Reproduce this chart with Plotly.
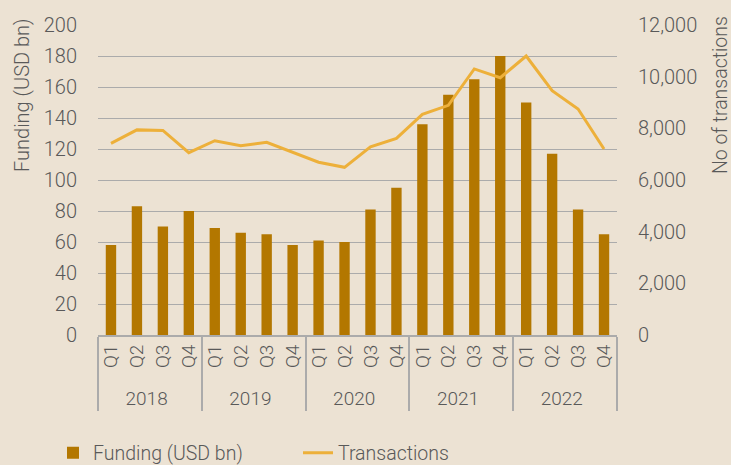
import plotly.graph_objects as go

years = ["2018"] * 4 + ["2019"] * 4 + ["2020"] * 4 + ["2021"] * 4 + ["2022"] * 4
quarters = ["Q1", "Q2", "Q3", "Q4"] * 5
funding = [58, 83, 70, 80, 69, 66, 65, 58, 61, 60, 81, 95, 136, 155, 165, 180, 150, 117, 81, 65]
transactions = [7420, 7940, 7920, 7060, 7520, 7330, 7460, 7060, 6690, 6490, 7280, 7610,
                8540, 8890, 10300, 9960, 10800, 9460, 8750, 7200]

BG = "#ECE2D3"
TXT = "#595959"
GRID = "#ABABAB"
FONT = "Roboto"

L, R, T, B = 98, 114, 25, 130
W, H = 731, 465
PW, PH = W - L - R, H - T - B

fig = go.Figure()
fig.add_trace(go.Bar(x=[years, quarters], y=funding, name="Funding (USD bn)",
                     marker=dict(color="#B37700", line=dict(width=0)), yaxis="y"))
fig.add_trace(go.Scatter(x=[years, quarters], y=transactions, name="Transactions",
                         mode="lines", line=dict(color="#EDB03A", width=3), yaxis="y2"))

fig.update_layout(
    width=W, height=H,
    margin=dict(l=L, r=R, t=T, b=B, autoexpand=False),
    paper_bgcolor=BG, plot_bgcolor=BG,
    font=dict(family=FONT, size=20, color=TXT, weight=300),
    bargap=0.60,
    showlegend=True,
    legend=dict(orientation="h", x=(53 - L) / PW, xanchor="left",
                y=(T + PH - 453) / PH, yanchor="middle",
                font=dict(size=19.5, color=TXT), bgcolor="rgba(0,0,0,0)",
                itemwidth=30, entrywidth=200, tracegroupgap=0),
    xaxis=dict(type="multicategory", tickangle=-90, showline=True, linecolor=GRID, linewidth=2,
               showdividers=True, dividercolor=GRID, dividerwidth=2, showgrid=False,
               automargin=False, ticks="outside", ticklen=7, tickcolor="rgba(0,0,0,0)",
               tickfont=dict(size=19, color=TXT)),
    yaxis=dict(range=[0, 200], dtick=20, showgrid=True, gridcolor=GRID, gridwidth=1.3,
               zeroline=False, showline=False, ticklabelstandoff=20, automargin=False,
               tickfont=dict(size=20, color=TXT)),
    yaxis2=dict(range=[0, 12000], dtick=2000, overlaying="y", side="right", showgrid=False,
                zeroline=False, tickformat=",", ticklabelstandoff=20, automargin=False,
                tickfont=dict(size=20, color=TXT)),
    annotations=[
        dict(text="Funding (USD bn)", textangle=-90, xref="paper", yref="paper",
             x=(22 - L) / PW, y=(T + PH - 95) / PH, xanchor="center", yanchor="middle",
             showarrow=False, font=dict(size=20, color=TXT)),
        dict(text="No of transactions", textangle=-90, xref="paper", yref="paper",
             x=(720 - L) / PW, y=(T + PH - 95) / PH, xanchor="center", yanchor="middle",
             showarrow=False, font=dict(size=19.5, color=TXT)),
    ],
)

fig.write_html("out.html", config={"displayModeBar": False},
               post_script="document.body.style.margin='0px';document.body.style.overflow='hidden';")
